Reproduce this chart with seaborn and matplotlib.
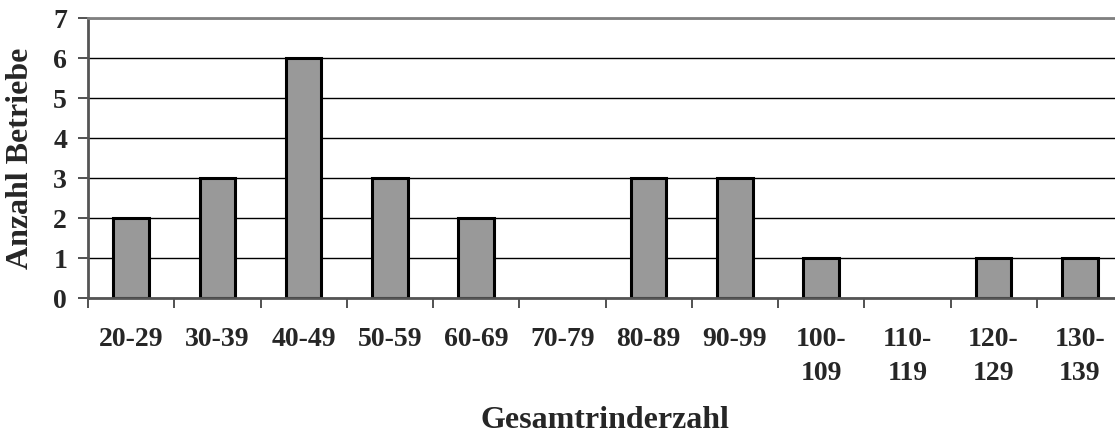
import matplotlib
matplotlib.use("Agg")
import matplotlib.pyplot as plt
import seaborn as sns
import pandas as pd
import numpy as np

categories = ["20-29", "30-39", "40-49", "50-59", "60-69", "70-79", "80-89",
              "90-99", "100-\n109", "110-\n119", "120-\n129", "130-\n139"]
counts = [2, 3, 6, 3, 2, 0, 3, 3, 1, 0, 1, 1]
y_ticks = [0, 1, 2, 3, 4, 5, 6, 7]

sns.set_theme(style="white")
plt.rcParams['font.family'] = ['Liberation Serif', 'DejaVu Serif']
plt.rcParams['font.weight'] = 'bold'

df = pd.DataFrame({"cat": categories, "n": counts})

fig = plt.figure(figsize=(11.15, 4.37), dpi=100)
W, H = 1115, 437
left, right, top, bottom = 88, 1123, 18, 298
ax = fig.add_axes([left / W, 1 - bottom / H, (right - left) / W, (bottom - top) / H])

ax.set_axisbelow(True)
ax.yaxis.grid(True, color="black", linewidth=1.0)
sns.barplot(data=df, x="cat", y="n", color="#999999", edgecolor="black",
            linewidth=2.2, width=0.41, saturation=1, ax=ax)
for p in ax.patches:
    if p.get_height() == 0:
        p.set_linewidth(0)

ax.set_ylim(0, 7)
ax.set_xlim(-0.5, len(categories) - 0.5)
ax.set_yticks(y_ticks)
ax.set_yticklabels([str(v) for v in y_ticks], fontsize=20, fontweight="bold")
ax.set_xticks(range(len(categories)))
ax.set_xticklabels(categories, fontsize=20, fontweight="bold", linespacing=1.45)
ax.set_xticks(np.arange(-0.5, len(categories), 1.0), minor=True)
ax.tick_params(axis="x", which="major", length=0, pad=21)
ax.tick_params(axis="x", which="minor", length=7, width=1.2, color="#333333", direction="out", bottom=True)
ax.tick_params(axis="y", which="major", length=7, width=1.2, color="#333333", direction="out", left=True, pad=8)

for s in ["top", "left", "bottom"]:
    ax.spines[s].set_visible(True)
    ax.spines[s].set_color("#808080")
    ax.spines[s].set_linewidth(2)
ax.spines["left"].set_color("#555555")
ax.spines["bottom"].set_color("#555555")
ax.spines["right"].set_visible(False)

ax.set_ylabel("")
ax.set_xlabel("")
fig.text(21 / W, 1 - 158 / H, "Anzahl Betriebe", fontsize=23, fontweight="bold",
         rotation=90, ha="center", va="center")
fig.text(605 / W, 1 - 420 / H, "Gesamtrinderzahl", fontsize=23, fontweight="bold",
         ha="center", va="center")

fig.savefig("out.png", dpi=100)
